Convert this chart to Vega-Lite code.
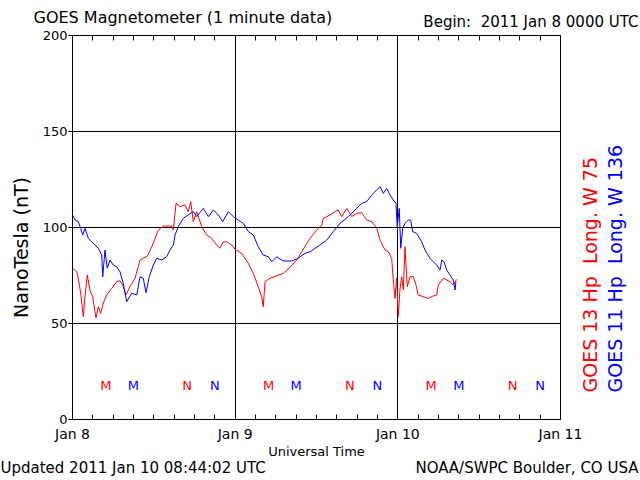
{
  "$schema": "https://vega.github.io/schema/vega-lite/v6.json",
  "width": 488,
  "height": 384,
  "autosize": {"type": "none"},
  "padding": {"left": 72, "top": 35, "right": 80, "bottom": 61},
  "background": "white",
  "config": {
    "view": {"stroke": "black", "strokeWidth": 1},
    "font": "DejaVu Sans",
    "axis": {
      "labelFont": "DejaVu Sans",
      "titleFont": "DejaVu Sans",
      "labelColor": "black",
      "titleColor": "black",
      "titleFontWeight": "normal",
      "domainColor": "black",
      "tickColor": "black",
      "gridColor": "black",
      "gridOpacity": 1,
      "gridWidth": 1,
      "tickWidth": 1
    }
  },
  "datasets": {
    "goes13": [
      {"t": "2011-01-08T00:06Z", "v": 78.5}, {"t": "2011-01-08T00:42Z", "v": 76.7}, {"t": "2011-01-08T00:56Z", "v": 73},
      {"t": "2011-01-08T01:17Z", "v": 65.6}, {"t": "2011-01-08T01:40Z", "v": 53.3}, {"t": "2011-01-08T01:55Z", "v": 63.7},
      {"t": "2011-01-08T02:15Z", "v": 75}, {"t": "2011-01-08T02:39Z", "v": 67}, {"t": "2011-01-08T03:03Z", "v": 63.7},
      {"t": "2011-01-08T03:32Z", "v": 52.6}, {"t": "2011-01-08T03:53Z", "v": 58.5}, {"t": "2011-01-08T04:14Z", "v": 55},
      {"t": "2011-01-08T04:37Z", "v": 60.4}, {"t": "2011-01-08T05:07Z", "v": 64.6}, {"t": "2011-01-08T05:51Z", "v": 68},
      {"t": "2011-01-08T06:35Z", "v": 71.5}, {"t": "2011-01-08T07:05Z", "v": 72}, {"t": "2011-01-08T07:29Z", "v": 69.8},
      {"t": "2011-01-08T07:58Z", "v": 64.6}, {"t": "2011-01-08T08:33Z", "v": 68.9}, {"t": "2011-01-08T09:18Z", "v": 73.3},
      {"t": "2011-01-08T10:02Z", "v": 82.8}, {"t": "2011-01-08T11:07Z", "v": 84.9}, {"t": "2011-01-08T11:46Z", "v": 89.7},
      {"t": "2011-01-08T12:44Z", "v": 98.4}, {"t": "2011-01-08T13:28Z", "v": 100.5}, {"t": "2011-01-08T14:43Z", "v": 100.5},
      {"t": "2011-01-08T14:57Z", "v": 98.4}, {"t": "2011-01-08T15:21Z", "v": 112.3}, {"t": "2011-01-08T15:56Z", "v": 110.6},
      {"t": "2011-01-08T16:40Z", "v": 111.5}, {"t": "2011-01-08T17:09Z", "v": 108}, {"t": "2011-01-08T17:31Z", "v": 113.2},
      {"t": "2011-01-08T17:54Z", "v": 102.8}, {"t": "2011-01-08T18:24Z", "v": 108}, {"t": "2011-01-08T19:08Z", "v": 100.2},
      {"t": "2011-01-08T19:52Z", "v": 95.8}, {"t": "2011-01-08T20:37Z", "v": 94.1}, {"t": "2011-01-08T21:21Z", "v": 90.6},
      {"t": "2011-01-08T21:50Z", "v": 88.9}, {"t": "2011-01-08T22:19Z", "v": 92.3}, {"t": "2011-01-08T22:49Z", "v": 92.3},
      {"t": "2011-01-08T23:34Z", "v": 90.6}, {"t": "2011-01-09T00:03Z", "v": 88.5}, {"t": "2011-01-09T01:02Z", "v": 86.3},
      {"t": "2011-01-09T02:01Z", "v": 81.1}, {"t": "2011-01-09T02:45Z", "v": 75.9}, {"t": "2011-01-09T03:29Z", "v": 68.9},
      {"t": "2011-01-09T03:59Z", "v": 63.7}, {"t": "2011-01-09T04:13Z", "v": 58.5}, {"t": "2011-01-09T04:29Z", "v": 71.5},
      {"t": "2011-01-09T05:13Z", "v": 73.3}, {"t": "2011-01-09T06:12Z", "v": 74.5}, {"t": "2011-01-09T07:10Z", "v": 75.9},
      {"t": "2011-01-09T08:10Z", "v": 79}, {"t": "2011-01-09T09:09Z", "v": 82.8}, {"t": "2011-01-09T10:08Z", "v": 88.5},
      {"t": "2011-01-09T11:07Z", "v": 94.1}, {"t": "2011-01-09T12:06Z", "v": 98.4}, {"t": "2011-01-09T12:50Z", "v": 101},
      {"t": "2011-01-09T13:05Z", "v": 104.5}, {"t": "2011-01-09T14:04Z", "v": 106.3}, {"t": "2011-01-09T15:17Z", "v": 108.9},
      {"t": "2011-01-09T15:47Z", "v": 105.4}, {"t": "2011-01-09T16:32Z", "v": 109.7}, {"t": "2011-01-09T17:16Z", "v": 105.4},
      {"t": "2011-01-09T18:00Z", "v": 107.1}, {"t": "2011-01-09T18:44Z", "v": 107.5}, {"t": "2011-01-09T19:29Z", "v": 103.6},
      {"t": "2011-01-09T20:13Z", "v": 102.8}, {"t": "2011-01-09T20:58Z", "v": 99.3}, {"t": "2011-01-09T21:27Z", "v": 93.2},
      {"t": "2011-01-09T22:11Z", "v": 88}, {"t": "2011-01-09T22:40Z", "v": 87.1}, {"t": "2011-01-09T23:10Z", "v": 83.7},
      {"t": "2011-01-09T23:24Z", "v": 72.4}, {"t": "2011-01-09T23:39Z", "v": 62.8}, {"t": "2011-01-09T23:54Z", "v": 73.3},
      {"t": "2011-01-10T00:08Z", "v": 53.3}, {"t": "2011-01-10T00:23Z", "v": 67.2}, {"t": "2011-01-10T00:38Z", "v": 74.1},
      {"t": "2011-01-10T00:53Z", "v": 67.2}, {"t": "2011-01-10T01:08Z", "v": 89.7}, {"t": "2011-01-10T01:28Z", "v": 68.9},
      {"t": "2011-01-10T01:52Z", "v": 74.1}, {"t": "2011-01-10T02:21Z", "v": 74.1}, {"t": "2011-01-10T02:45Z", "v": 69.8},
      {"t": "2011-01-10T03:05Z", "v": 64.6}, {"t": "2011-01-10T03:50Z", "v": 63.7}, {"t": "2011-01-10T04:34Z", "v": 62.8},
      {"t": "2011-01-10T05:18Z", "v": 64.1}, {"t": "2011-01-10T05:48Z", "v": 64.6}, {"t": "2011-01-10T06:03Z", "v": 69.8},
      {"t": "2011-01-10T06:47Z", "v": 73.3}, {"t": "2011-01-10T07:46Z", "v": 71.5}, {"t": "2011-01-10T08:15Z", "v": 69.8},
      {"t": "2011-01-10T08:45Z", "v": 72.7}
    ],
    "goes11": [
      {"t": "2011-01-08T00:06Z", "v": 106.3}, {"t": "2011-01-08T00:27Z", "v": 103.6}, {"t": "2011-01-08T00:56Z", "v": 102.8},
      {"t": "2011-01-08T01:17Z", "v": 99.3}, {"t": "2011-01-08T01:35Z", "v": 95.8}, {"t": "2011-01-08T01:55Z", "v": 99.3},
      {"t": "2011-01-08T02:24Z", "v": 94.1}, {"t": "2011-01-08T02:54Z", "v": 92.3}, {"t": "2011-01-08T03:23Z", "v": 90.6},
      {"t": "2011-01-08T03:53Z", "v": 88.9}, {"t": "2011-01-08T04:23Z", "v": 85.4}, {"t": "2011-01-08T04:32Z", "v": 74.1},
      {"t": "2011-01-08T04:52Z", "v": 88}, {"t": "2011-01-08T05:12Z", "v": 78.5}, {"t": "2011-01-08T05:36Z", "v": 82.8},
      {"t": "2011-01-08T06:05Z", "v": 80.2}, {"t": "2011-01-08T06:35Z", "v": 79.3}, {"t": "2011-01-08T07:05Z", "v": 76.7},
      {"t": "2011-01-08T07:34Z", "v": 70.6}, {"t": "2011-01-08T08:04Z", "v": 61.1}, {"t": "2011-01-08T08:48Z", "v": 65.5},
      {"t": "2011-01-08T09:33Z", "v": 64.6}, {"t": "2011-01-08T10:02Z", "v": 74.1}, {"t": "2011-01-08T10:31Z", "v": 73.3},
      {"t": "2011-01-08T10:55Z", "v": 65.8}, {"t": "2011-01-08T11:24Z", "v": 74.1}, {"t": "2011-01-08T12:00Z", "v": 80.2},
      {"t": "2011-01-08T12:30Z", "v": 83.7}, {"t": "2011-01-08T13:14Z", "v": 82.8}, {"t": "2011-01-08T13:58Z", "v": 84.5},
      {"t": "2011-01-08T14:27Z", "v": 88}, {"t": "2011-01-08T14:57Z", "v": 90.6}, {"t": "2011-01-08T15:12Z", "v": 95.8},
      {"t": "2011-01-08T15:41Z", "v": 100.2}, {"t": "2011-01-08T16:25Z", "v": 104.5}, {"t": "2011-01-08T17:09Z", "v": 106.3},
      {"t": "2011-01-08T17:54Z", "v": 108}, {"t": "2011-01-08T18:24Z", "v": 105.4}, {"t": "2011-01-08T19:22Z", "v": 109.7},
      {"t": "2011-01-08T20:07Z", "v": 105.4}, {"t": "2011-01-08T20:51Z", "v": 108.9}, {"t": "2011-01-08T21:35Z", "v": 106.3},
      {"t": "2011-01-08T22:14Z", "v": 102.8}, {"t": "2011-01-08T23:04Z", "v": 108}, {"t": "2011-01-08T23:48Z", "v": 105.4},
      {"t": "2011-01-09T00:32Z", "v": 103.6}, {"t": "2011-01-09T01:16Z", "v": 101.9}, {"t": "2011-01-09T02:01Z", "v": 97.6},
      {"t": "2011-01-09T02:45Z", "v": 95.8}, {"t": "2011-01-09T03:29Z", "v": 89.7}, {"t": "2011-01-09T04:13Z", "v": 85.4},
      {"t": "2011-01-09T04:58Z", "v": 84.5}, {"t": "2011-01-09T05:28Z", "v": 81.9}, {"t": "2011-01-09T06:12Z", "v": 84.5},
      {"t": "2011-01-09T07:10Z", "v": 82.3}, {"t": "2011-01-09T08:25Z", "v": 82.3}, {"t": "2011-01-09T09:23Z", "v": 83.7},
      {"t": "2011-01-09T10:23Z", "v": 86.3}, {"t": "2011-01-09T11:07Z", "v": 87.1}, {"t": "2011-01-09T12:35Z", "v": 90.6},
      {"t": "2011-01-09T13:35Z", "v": 93.2}, {"t": "2011-01-09T14:33Z", "v": 97.6}, {"t": "2011-01-09T15:32Z", "v": 101.9},
      {"t": "2011-01-09T16:46Z", "v": 105.4}, {"t": "2011-01-09T18:00Z", "v": 109.7}, {"t": "2011-01-09T18:44Z", "v": 112.3},
      {"t": "2011-01-09T19:29Z", "v": 113.2}, {"t": "2011-01-09T20:13Z", "v": 116.7}, {"t": "2011-01-09T20:58Z", "v": 119.3},
      {"t": "2011-01-09T21:27Z", "v": 121}, {"t": "2011-01-09T21:56Z", "v": 117.5}, {"t": "2011-01-09T22:26Z", "v": 120.1},
      {"t": "2011-01-09T22:55Z", "v": 116.7}, {"t": "2011-01-09T23:24Z", "v": 114.1}, {"t": "2011-01-09T23:48Z", "v": 112.3},
      {"t": "2011-01-09T23:59Z", "v": 100.2}, {"t": "2011-01-10T00:17Z", "v": 109.7}, {"t": "2011-01-10T00:30Z", "v": 88.9},
      {"t": "2011-01-10T00:47Z", "v": 99.3}, {"t": "2011-01-10T01:08Z", "v": 101.9}, {"t": "2011-01-10T01:37Z", "v": 103.6},
      {"t": "2011-01-10T01:58Z", "v": 103.6}, {"t": "2011-01-10T02:16Z", "v": 97.6}, {"t": "2011-01-10T02:51Z", "v": 96.7},
      {"t": "2011-01-10T03:36Z", "v": 92.3}, {"t": "2011-01-10T04:05Z", "v": 88}, {"t": "2011-01-10T04:49Z", "v": 83.7},
      {"t": "2011-01-10T05:48Z", "v": 80.2}, {"t": "2011-01-10T06:18Z", "v": 77.6}, {"t": "2011-01-10T06:33Z", "v": 82.8},
      {"t": "2011-01-10T06:53Z", "v": 81.9}, {"t": "2011-01-10T07:17Z", "v": 77.6}, {"t": "2011-01-10T07:46Z", "v": 75},
      {"t": "2011-01-10T08:15Z", "v": 72.4}, {"t": "2011-01-10T08:31Z", "v": 67.2}, {"t": "2011-01-10T08:39Z", "v": 71.5}
    ],
    "marks13": [
      {"t": "2011-01-08T05:00Z", "label": "M"}, {"t": "2011-01-08T17:00Z", "label": "N"},
      {"t": "2011-01-09T05:00Z", "label": "M"}, {"t": "2011-01-09T17:00Z", "label": "N"},
      {"t": "2011-01-10T05:00Z", "label": "M"}, {"t": "2011-01-10T17:00Z", "label": "N"}
    ],
    "marks11": [
      {"t": "2011-01-08T09:04Z", "label": "M"}, {"t": "2011-01-08T21:04Z", "label": "N"},
      {"t": "2011-01-09T09:04Z", "label": "M"}, {"t": "2011-01-09T21:04Z", "label": "N"},
      {"t": "2011-01-10T09:04Z", "label": "M"}, {"t": "2011-01-10T21:04Z", "label": "N"}
    ]
  },
  "layer": [
    {
      "data": {"name": "goes13"},
      "mark": {"type": "line", "color": "#ff0000", "strokeWidth": 1},
      "encoding": {
        "x": {
          "field": "t", "type": "temporal",
          "scale": {"type": "utc", "domain": [{"year": 2011, "month": 1, "date": 8, "utc": true}, {"year": 2011, "month": 1, "date": 11, "utc": true}]},
          "axis": {
            "orient": "bottom",
            "values": [
              {"year": 2011, "month": 1, "date": 8, "utc": true}, {"year": 2011, "month": 1, "date": 9, "utc": true},
              {"year": 2011, "month": 1, "date": 10, "utc": true}, {"year": 2011, "month": 1, "date": 11, "utc": true}
            ],
            "labelExpr": "utcFormat(datum.value, '%b %-d')",
            "grid": true, "domain": false, "tickSize": 0,
            "labelFontSize": 14, "labelPadding": 8, "labelFlush": false, "labelOverlap": false,
            "title": "Universal Time", "titleFontSize": 13,
            "titleX": 244, "titleY": 36, "titleAlign": "center", "titleBaseline": "alphabetic"
          }
        },
        "y": {
          "field": "v", "type": "quantitative",
          "scale": {"domain": [0, 200], "nice": false, "zero": false},
          "axis": {
            "orient": "left", "values": [0, 50, 100, 150, 200],
            "grid": true, "domain": false, "tickSize": 4,
            "labelFontSize": 13, "labelPadding": 1,
            "title": "NanoTesla (nT)", "titleFontSize": 19,
            "titleX": -51, "titleY": 212, "titleAngle": 270, "titleAlign": "center", "titleBaseline": "middle"
          }
        }
      }
    },
    {
      "data": {"name": "goes11"},
      "mark": {"type": "line", "color": "#0000ff", "strokeWidth": 1},
      "encoding": {
        "x": {
          "field": "t", "type": "temporal",
          "scale": {"type": "utc", "domain": [{"year": 2011, "month": 1, "date": 8, "utc": true}, {"year": 2011, "month": 1, "date": 11, "utc": true}]},
          "axis": {
            "orient": "top",
            "values": [
              {"year": 2011, "month": 1, "date": 8, "hours": 3, "utc": true}, {"year": 2011, "month": 1, "date": 8, "hours": 6, "utc": true},
              {"year": 2011, "month": 1, "date": 8, "hours": 9, "utc": true}, {"year": 2011, "month": 1, "date": 8, "hours": 12, "utc": true},
              {"year": 2011, "month": 1, "date": 8, "hours": 15, "utc": true}, {"year": 2011, "month": 1, "date": 8, "hours": 18, "utc": true},
              {"year": 2011, "month": 1, "date": 8, "hours": 21, "utc": true}, {"year": 2011, "month": 1, "date": 9, "hours": 3, "utc": true},
              {"year": 2011, "month": 1, "date": 9, "hours": 6, "utc": true}, {"year": 2011, "month": 1, "date": 9, "hours": 9, "utc": true},
              {"year": 2011, "month": 1, "date": 9, "hours": 12, "utc": true}, {"year": 2011, "month": 1, "date": 9, "hours": 15, "utc": true},
              {"year": 2011, "month": 1, "date": 9, "hours": 18, "utc": true}, {"year": 2011, "month": 1, "date": 9, "hours": 21, "utc": true},
              {"year": 2011, "month": 1, "date": 10, "hours": 3, "utc": true}, {"year": 2011, "month": 1, "date": 10, "hours": 6, "utc": true},
              {"year": 2011, "month": 1, "date": 10, "hours": 9, "utc": true}, {"year": 2011, "month": 1, "date": 10, "hours": 12, "utc": true},
              {"year": 2011, "month": 1, "date": 10, "hours": 15, "utc": true}, {"year": 2011, "month": 1, "date": 10, "hours": 18, "utc": true},
              {"year": 2011, "month": 1, "date": 10, "hours": 21, "utc": true}
            ],
            "labels": false, "grid": false, "domain": false, "tickSize": -5,
            "title": "Begin:\u00a0 2011 Jan 8 0000 UTC", "titleFontSize": 15,
            "titleX": 566, "titleY": -9, "titleAlign": "right", "titleBaseline": "alphabetic"
          }
        },
        "y": {
          "field": "v", "type": "quantitative",
          "scale": {"domain": [0, 200], "nice": false, "zero": false},
          "axis": {
            "orient": "right", "labels": false, "ticks": false, "domain": false, "grid": false,
            "title": "GOES 11 Hp\u00a0 Long. W 136", "titleColor": "#0000ff", "titleFontSize": 19,
            "titleX": 55, "titleY": 357, "titleAngle": 270, "titleAlign": "left", "titleBaseline": "middle"
          }
        }
      }
    },
    {
      "data": {"name": "marks13"},
      "mark": {"type": "text", "color": "#ff0000", "fontSize": 13, "font": "DejaVu Sans", "baseline": "middle", "align": "center"},
      "encoding": {
        "x": {
          "field": "t", "type": "temporal",
          "scale": {"type": "utc", "domain": [{"year": 2011, "month": 1, "date": 8, "utc": true}, {"year": 2011, "month": 1, "date": 11, "utc": true}]},
          "axis": {
            "orient": "bottom",
            "values": [
              {"year": 2011, "month": 1, "date": 8, "hours": 3, "utc": true}, {"year": 2011, "month": 1, "date": 8, "hours": 6, "utc": true},
              {"year": 2011, "month": 1, "date": 8, "hours": 9, "utc": true}, {"year": 2011, "month": 1, "date": 8, "hours": 12, "utc": true},
              {"year": 2011, "month": 1, "date": 8, "hours": 15, "utc": true}, {"year": 2011, "month": 1, "date": 8, "hours": 18, "utc": true},
              {"year": 2011, "month": 1, "date": 8, "hours": 21, "utc": true}, {"year": 2011, "month": 1, "date": 9, "hours": 3, "utc": true},
              {"year": 2011, "month": 1, "date": 9, "hours": 6, "utc": true}, {"year": 2011, "month": 1, "date": 9, "hours": 9, "utc": true},
              {"year": 2011, "month": 1, "date": 9, "hours": 12, "utc": true}, {"year": 2011, "month": 1, "date": 9, "hours": 15, "utc": true},
              {"year": 2011, "month": 1, "date": 9, "hours": 18, "utc": true}, {"year": 2011, "month": 1, "date": 9, "hours": 21, "utc": true},
              {"year": 2011, "month": 1, "date": 10, "hours": 3, "utc": true}, {"year": 2011, "month": 1, "date": 10, "hours": 6, "utc": true},
              {"year": 2011, "month": 1, "date": 10, "hours": 9, "utc": true}, {"year": 2011, "month": 1, "date": 10, "hours": 12, "utc": true},
              {"year": 2011, "month": 1, "date": 10, "hours": 15, "utc": true}, {"year": 2011, "month": 1, "date": 10, "hours": 18, "utc": true},
              {"year": 2011, "month": 1, "date": 10, "hours": 21, "utc": true}
            ],
            "labels": false, "grid": false, "domain": false, "tickSize": -5,
            "title": "Updated 2011 Jan 10 08:44:02 UTC", "titleFontSize": 15,
            "titleX": -72, "titleY": 53, "titleAlign": "left", "titleBaseline": "alphabetic"
          }
        },
        "y": {
          "datum": 17, "type": "quantitative",
          "scale": {"domain": [0, 200], "nice": false, "zero": false},
          "axis": {
            "orient": "right", "labels": false, "ticks": false, "domain": false, "grid": false,
            "title": "GOES 13 Hp\u00a0 Long. W 75", "titleColor": "#ff0000", "titleFontSize": 19,
            "titleX": 30, "titleY": 357, "titleAngle": 270, "titleAlign": "left", "titleBaseline": "middle"
          }
        },
        "text": {"field": "label"}
      }
    },
    {
      "data": {"name": "marks11"},
      "mark": {"type": "text", "color": "#0000ff", "fontSize": 13, "font": "DejaVu Sans", "baseline": "middle", "align": "center"},
      "encoding": {
        "x": {
          "field": "t", "type": "temporal",
          "scale": {"type": "utc", "domain": [{"year": 2011, "month": 1, "date": 8, "utc": true}, {"year": 2011, "month": 1, "date": 11, "utc": true}]},
          "axis": {
            "orient": "bottom", "labels": false, "ticks": false, "domain": false, "grid": false,
            "title": "NOAA/SWPC Boulder, CO USA", "titleFontSize": 15,
            "titleX": 566, "titleY": 53, "titleAlign": "right", "titleBaseline": "alphabetic"
          }
        },
        "y": {
          "datum": 17, "type": "quantitative",
          "scale": {"domain": [0, 200], "nice": false, "zero": false},
          "axis": {
            "orient": "left", "labels": false, "ticks": false, "domain": false, "grid": false,
            "title": "GOES Magnetometer (1 minute data)", "titleFontSize": 16,
            "titleX": -39, "titleY": -13, "titleAngle": 0, "titleAlign": "left", "titleBaseline": "alphabetic"
          }
        },
        "text": {"field": "label"}
      }
    }
  ],
  "resolve": {"scale": {"x": "independent", "y": "independent"}, "axis": {"x": "independent", "y": "independent"}}
}
